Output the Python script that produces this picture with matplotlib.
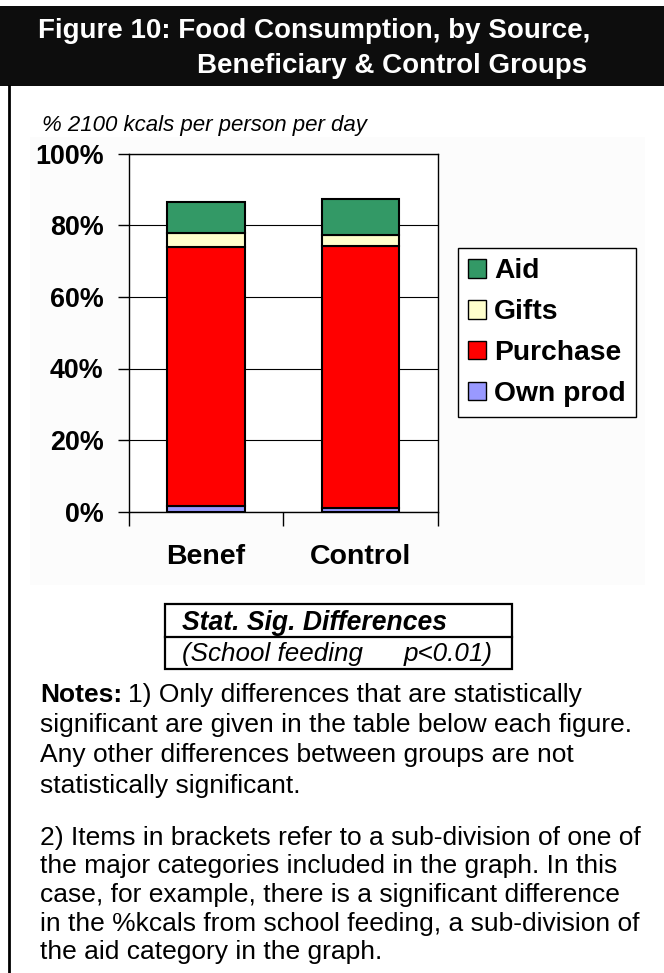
import matplotlib.pyplot as plt
from matplotlib.patches import Rectangle
from matplotlib.lines import Line2D

plt.rcParams['font.family'] = ['Liberation Sans', 'DejaVu Sans']

# Data (share of 2100 kcals per person per day)
groups = ["Benef", "Control"]
own_prod = [0.016, 0.010]
purchase = [0.723, 0.732]
gifts = [0.040, 0.031]
aid = [0.086, 0.100]
series = [("Own prod", own_prod, "#9999FF"),
          ("Purchase", purchase, "#FF0000"),
          ("Gifts", gifts, "#FFFFCC"),
          ("Aid", aid, "#339966")]
yticks = [0, 0.2, 0.4, 0.6, 0.8, 1.0]
ytick_labels = ["0%", "20%", "40%", "60%", "80%", "100%"]

W, H = 664, 973
fig = plt.figure(figsize=(W / 100, H / 100), dpi=100)


def fx(x):
    return x / W


def fy(y):
    return 1 - y / H


# header band
fig.patches.append(Rectangle((0, fy(86)), 1, (86 - 6) / H, transform=fig.transFigure,
                             facecolor="#0d0d0d", edgecolor="none", zorder=-2))
fig.text(fx(38), fy(38), "Figure 10: Food Consumption, by Source,", color="white",
         fontsize=20, fontweight="bold", va="baseline", ha="left")
fig.text(fx(587), fy(73), "Beneficiary & Control Groups", color="white",
         fontsize=20, fontweight="bold", va="baseline", ha="right")

# left frame line
fig.lines.append(Line2D([fx(9), fx(9)], [fy(86), 0], transform=fig.transFigure,
                        color="black", lw=2))

# faint chart area background
fig.patches.append(Rectangle((fx(30), fy(585)), (645 - 30) / W, (585 - 137) / H,
                             transform=fig.transFigure, facecolor="#fcfcfc",
                             edgecolor="none", zorder=-2))

fig.text(fx(42), fy(131), "% 2100 kcals per person per day", fontsize=16,
         style="italic", va="baseline", ha="left")

# chart
ax = fig.add_axes([fx(128.7), fy(511.7), (438 - 128.7) / W, 358 / H])
ax.set_zorder(2)
ax.set_facecolor("white")
x = range(len(groups))
bottom = [0.0] * len(groups)
handles = []
for name, vals, col in series:
    b = ax.bar(x, vals, width=0.5, bottom=bottom, color=col, edgecolor="black",
               linewidth=1.5, label=name, zorder=3)
    handles.append(b)
    bottom = [bo + v for bo, v in zip(bottom, vals)]

ax.set_xlim(-0.5, 1.5)
ax.set_ylim(0, 1)
ax.set_yticks(yticks)
ax.set_yticklabels(ytick_labels, fontsize=19.4, fontweight="bold")
ax.tick_params(axis="y", length=8, width=1, pad=10, direction="out")
ax.yaxis.grid(True, color="black", lw=0.8, zorder=0)
ax.set_axisbelow(True)
ax.set_xticks([0, 1])
ax.set_xticklabels(groups, fontsize=20.5, fontweight="bold")
ax.tick_params(axis="x", which="major", length=0, pad=23)
ax.set_xticks([-0.5, 0.5, 1.5], minor=True)
ax.tick_params(axis="x", which="minor", length=10, width=1, direction="out")
for s in ax.spines.values():
    s.set_color("black")
    s.set_linewidth(1)

leg = ax.legend(handles[::-1], [s[0] for s in series][::-1],
                loc="upper left", bbox_to_anchor=(fx(457.7), fy(248)),
                bbox_transform=fig.transFigure, borderaxespad=0, frameon=True,
                fancybox=False, framealpha=1, edgecolor="black",
                prop={"size": 20.3, "weight": "bold"}, handlelength=0.64,
                handleheight=0.64, handletextpad=0.3, labelspacing=0.53,
                borderpad=0.36)
leg.get_frame().set_linewidth(1)
for p in leg.get_patches():
    p.set_linewidth(1)

# significance table
fig.patches.append(Rectangle((fx(165), fy(669.3)), (512.3 - 165) / W, (669.3 - 604.3) / H,
                             transform=fig.transFigure, facecolor="white",
                             edgecolor="black", lw=1.6))
fig.lines.append(Line2D([fx(165), fx(512.3)], [fy(637.3), fy(637.3)],
                        transform=fig.transFigure, color="black", lw=1.6))
fig.text(fx(181.7), fy(630), "Stat. Sig. Differences", fontsize=19.1,
         fontweight="bold", style="italic", va="baseline", ha="left")
fig.text(fx(181.7), fy(661), "(School feeding", fontsize=18.7, style="italic",
         va="baseline", ha="left")
fig.text(fx(493), fy(661), "p<0.01)", fontsize=18.7, style="italic",
         va="baseline", ha="right")

# notes
note_fs = 19
renderer = fig.canvas.get_renderer()
t = fig.text(fx(40), fy(701.7), "Notes:", fontsize=note_fs, fontweight="bold",
             va="baseline", ha="left")
ext = t.get_window_extent(renderer)
fig.text(ext.x1 / W + 6 / W, fy(701.7), "1) Only differences that are statistically",
         fontsize=note_fs, va="baseline", ha="left")
para1 = ["significant are given in the table below each figure.",
         "Any other differences between groups are not",
         "statistically significant."]
for i, line in enumerate(para1):
    fig.text(fx(40), fy(701.7 + 30.3 * (i + 1)), line, fontsize=note_fs,
             va="baseline", ha="left")
para2 = ["2) Items in brackets refer to a sub-division of one of",
         "the major categories included in the graph. In this",
         "case, for example, there is a significant difference",
         "in the %kcals from school feeding, a sub-division of",
         "the aid category in the graph."]
for i, line in enumerate(para2):
    fig.text(fx(40), fy(845 + 28.5 * i), line, fontsize=note_fs,
             va="baseline", ha="left")

fig.savefig("out.png", dpi=100, facecolor="white")
